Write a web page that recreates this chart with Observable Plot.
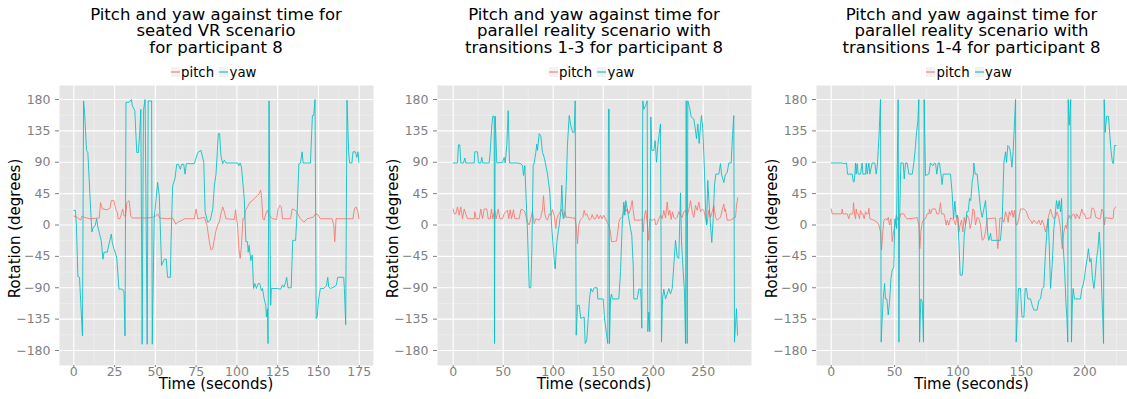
<!DOCTYPE html>
<html><head><meta charset="utf-8">
<script src="https://cdn.jsdelivr.net/npm/d3@7"></script>
<script src="https://cdn.jsdelivr.net/npm/@observablehq/plot@0.6"></script>
<style>
body{margin:0;background:#fff;}
#root{position:relative;width:1127px;height:399px;overflow:hidden;font-family:"DejaVu Sans",sans-serif;}
.title{position:absolute;top:6.5px;text-align:center;font-size:16.5px;line-height:16.7px;color:#000;white-space:nowrap;}
.legend{position:absolute;top:64px;height:16px;display:flex;justify-content:center;align-items:center;font-size:13.3px;color:#000;white-space:nowrap;}
.key{width:9px;height:10px;background:#F2F2F2;position:relative;margin-right:1.5px;}
.key i{position:absolute;left:0;right:0;top:4px;height:2px;opacity:0.55;}
.lab{margin-right:5px}
.xlab{position:absolute;top:376px;font-size:15px;line-height:17px;text-align:center;color:#000;white-space:nowrap;}
.ylab{position:absolute;width:200px;height:17px;font-size:15px;line-height:17px;text-align:center;color:#000;transform:rotate(-90deg);white-space:nowrap;}
.plot{position:absolute;top:83px;}
</style></head>
<body><div id="root"></div>
<script>
// ---------- data ----------
const seriesNames = ["pitch", "yaw"];
const seriesColors = ["#F8766D", "#00BFC4"];
const xTitle = "Time (seconds)";
const yTitle = "Rotation (degrees)";
const yTicks = [-180, -135, -90, -45, 0, 45, 90, 135, 180];
const yMinor = [-157.5, -112.5, -67.5, -22.5, 22.5, 67.5, 112.5, 157.5];

const p1Title = ["Pitch and yaw against time for", "seated VR scenario", "for participant 8"];
const p2Title = ["Pitch and yaw against time for", "parallel reality scenario with", "transitions 1-3 for participant 8"];
const p3Title = ["Pitch and yaw against time for", "parallel reality scenario with", "transitions 1-4 for participant 8"];

const p1XTicks = [0, 25, 50, 75, 100, 125, 150, 175];
const p1XMinor = [12.5, 37.5, 62.5, 87.5, 112.5, 137.5, 162.5];
const p2XTicks = [0, 50, 100, 150, 200, 250];
const p2XMinor = [25, 75, 125, 175, 225, 275];
const p3XTicks = [0, 50, 100, 150, 200];
const p3XMinor = [25, 75, 125, 175, 225];

// [time (s), rotation (deg)]
const p1Pitch = [[0,13],[2.1,11],[3.1,9],[4.1,7],[5.1,13],[6.2,11],[8.2,10],[10.3,9],[14.4,10],[15.6,10],[16.4,32],[17.5,23],[20.5,22],[22.2,24],[23,35],[24.6,35],[25.7,23],[26.7,18],[27.1,9],[28.3,9],[29.2,16],[30,23],[30.8,13],[31.8,13],[32.5,32],[33.9,35],[34.9,13],[35.9,10],[40.1,10],[45.2,10],[48.3,11],[50.3,13],[51.4,16],[52.6,10],[57.5,9],[60.6,10],[61.6,6],[62.6,1],[63.7,4],[65.7,6],[67.8,9],[73.9,9],[75,23],[76,9],[80.1,11],[81.7,-1],[83.1,-24],[84.1,-36],[85.2,-34],[86.2,-20],[87.2,-8],[88.2,0],[89.2,4],[90.2,16],[91.3,26],[92.3,19],[93.3,9],[98.4,8],[99.2,22],[99.8,9],[100.4,0],[101.2,-34],[102,-48],[102.8,-29],[103.7,9],[104.5,9],[105.3,21],[106.5,26],[108.1,33],[109.6,35],[110.6,38],[111.6,40],[112.6,42],[113.6,45],[114.6,50],[115.2,38],[115.9,9],[116.7,7],[117.7,16],[118.7,21],[119.7,14],[121.8,9],[124.4,8],[125.2,23],[126.4,28],[127.2,26],[128,9],[132.9,9],[133.9,23],[135.4,22],[136.6,19],[139,9],[141.1,4],[143.1,9],[146.7,11],[148.2,16],[149.6,15],[151.2,9],[158.3,9],[159.4,0],[160,-24],[160.8,9],[167.5,9],[171.2,9],[172,23],[173.2,26],[174.2,19],[174.8,9]];
const p1Yaw = [[0,21],[1,21],[1.6,-1],[2.5,-74],[3.5,-75],[5.3,-159],[6,178],[6.6,162],[7.8,107],[8.6,104],[9.4,66],[10.3,23],[11.1,-10],[11.9,-3],[13.1,-1],[14,9],[14.8,-3],[16,-15],[16.8,-22],[17.9,-49],[18.5,-39],[20.5,-39],[21.6,-27],[23,-13],[23.6,-25],[24.6,-34],[26.3,-46],[27.7,-92],[29.8,-92],[30.8,-96],[31.4,-159],[32,176],[33.9,176],[35.3,180],[35.9,171],[37.4,164],[38.6,104],[39.6,104],[40.3,128],[41.1,166],[41.9,-171],[42.7,164],[43.7,180],[45,-171],[45.6,178],[47.7,178],[48.1,-171],[49.3,9],[51.4,61],[52.4,42],[53.8,-58],[55.5,-49],[56.7,-49],[57.5,-75],[59.2,-75],[59.6,-25],[60.6,56],[62,66],[63.1,87],[64.1,87],[65.3,80],[66.1,87],[67.4,87],[68.2,73],[69,88],[73.9,88],[76,104],[78,107],[79.7,90],[80.5,19],[82.1,4],[83.7,7],[85.2,23],[86.2,57],[87.2,73],[88.6,131],[89.4,131],[90.2,100],[91.3,88],[92.3,93],[93.3,89],[100.4,89],[101.2,85],[102,89],[102.8,83],[104.5,38],[105.5,-24],[106.5,-24],[106.9,-39],[107.5,-29],[108.5,-51],[109.4,-43],[110.2,-91],[111,-84],[112,-91],[113,-84],[114,-84],[115,-94],[115.7,-91],[116.7,-106],[117.7,-115],[118.1,-132],[118.7,-120],[119.1,-170],[119.7,178],[120.7,-115],[121.1,-91],[124.8,-91],[126.8,-92],[127.9,-86],[128.9,-89],[129.9,-82],[130.5,-75],[131.3,-90],[133.3,-90],[134.2,-22],[136,-22],[137,23],[138,88],[139,89],[140,105],[140.6,89],[145.1,89],[146.3,157],[147.1,157],[147.9,180],[148.6,-134],[149.2,-132],[150.2,-105],[151.2,-91],[153.3,-91],[154.9,-87],[155.7,-75],[156.3,-89],[157.3,-91],[159.4,-89],[161,-86],[161.8,-75],[165.5,-75],[165.9,-91],[166.7,-143],[167.5,179],[168.5,105],[169.1,89],[170.5,89],[171.2,105],[172.6,105],[173.6,97],[174.2,105],[174.8,90]];

const p2Pitch = [[0,23],[1,16],[2.6,16],[4.3,26],[6,14],[7.6,26],[9.3,9],[11,23],[12.6,16],[14.3,9],[21,9],[21.6,19],[23,9],[26,9],[27.6,23],[29.3,9],[31,23],[33.6,23],[35,9],[37,9],[38.3,23],[39.6,9],[41.6,21],[43,9],[45,23],[46.6,9],[49.3,9],[51,16],[52.6,19],[54.3,21],[55.6,9],[57,22],[58.3,9],[60.3,22],[61.6,9],[66,9],[67.6,22],[69.6,22],[71.6,19],[73,11],[74.3,4],[76,0],[77.6,9],[79.3,19],[81,2],[82.6,9],[86,7],[87.6,11],[89.3,23],[90.3,42],[91.6,16],[93,9],[94.3,7],[96,16],[97.6,14],[99.3,22],[101,14],[102.6,-5],[103.6,9],[105,14],[107,19],[108.3,23],[110.3,11],[111.6,19],[113,11],[116,11],[119.3,10],[121.6,10],[123,0],[124.3,-27],[125.6,0],[127,7],[128.3,9],[129.6,11],[131,21],[132.3,14],[133.6,16],[135,11],[136.3,7],[137.6,9],[139,15],[140.6,9],[142.3,9],[144,15],[145.6,9],[147.3,14],[149,9],[150.6,14],[152.3,9],[154,4],[155.6,0],[157.3,-10],[158.3,-24],[163.3,-23],[164.6,-10],[165.6,4],[167.3,10],[169,11],[170.6,19],[171.6,28],[172.6,19],[174,23],[175.6,16],[177.3,23],[179,35],[180,21],[181.3,7],[187.3,7],[189,9],[190,-10],[191.3,14],[192.6,21],[194,4],[195.6,-22],[196.6,9],[198,7],[200,7],[201.3,9],[202.6,0],[204,2],[205.6,9],[207.3,14],[209,9],[210.6,21],[212.3,10],[214,33],[215.3,14],[216.6,21],[218,8],[219.3,19],[220.6,11],[222.6,9],[224,11],[225.6,19],[227.3,14],[229,11],[230.6,19],[232.3,21],[234,14],[235.6,22],[237.3,35],[239,19],[240.6,11],[242.3,28],[244,21],[245.6,33],[247.3,19],[249,23],[250.6,21],[252.3,9],[254,2],[255.6,21],[257.3,11],[259,19],[260.6,28],[262.3,11],[264,7],[265.6,9],[267.3,11],[269,22],[270.6,30],[271.6,19],[272.3,23],[274,7],[277.3,7],[280.6,10],[282.3,11],[283.3,28],[284.6,39]];
const p2Yaw = [[0,89],[4.3,89],[5.3,115],[6.6,115],[7.6,89],[10.3,89],[11.6,96],[12.6,89],[21,89],[21.6,105],[24.3,105],[25.3,89],[27.6,89],[28.6,97],[29.6,89],[36,89],[37,104],[38.6,143],[39.6,156],[41,156],[41.3,-170],[42,156],[43.6,89],[49.3,90],[51,97],[52,89],[53.6,114],[55,164],[56.3,89],[64.3,89],[67.6,88],[69.3,85],[70.3,71],[71.6,85],[72.6,50],[74.3,-10],[76,-90],[77.6,-90],[78.6,-39],[80,85],[81,89],[82.6,104],[83.6,116],[84.3,107],[86,131],[87.6,128],[89.3,104],[91,97],[92,90],[94.3,73],[96.6,47],[98.6,-5],[101,-49],[102,-63],[103.6,-25],[106,0],[107.6,18],[108.6,57],[110,9],[111.6,11],[113,57],[114.3,116],[116,157],[117.6,143],[119.3,133],[121,133],[122,178],[123,-158],[124.3,-115],[126,-115],[127.6,-134],[131,-132],[132,-170],[133.6,-165],[135,-134],[136.3,-106],[137.6,-91],[139.3,-96],[141,-90],[144,-90],[144.6,-106],[150,-106],[151.3,-134],[153.3,-156],[154.6,-170],[155.3,166],[156,166],[156.3,-170],[157.3,-106],[158.3,-99],[159.3,-106],[165.6,-106],[167.3,-67],[169,0],[170.6,33],[171.6,14],[172.6,35],[174,23],[175.6,9],[177.3,-5],[178.6,-15],[180,-58],[180.6,-106],[184,-106],[185.6,-92],[187.3,-92],[188,-108],[188.6,-148],[189.6,178],[190.6,166],[192.3,171],[194,178],[194.6,-153],[195.6,-125],[196.6,-153],[197.6,155],[198.6,107],[200.6,107],[202,121],[203.3,90],[204.6,114],[206,131],[207.3,145],[208.3,-168],[209.3,-106],[210.6,-92],[212.3,-106],[214,-99],[215.6,-91],[217.3,-99],[219,-91],[220.6,-58],[222.3,-22],[224,-46],[225.6,-48],[227.3,46],[228.3,-24],[230,-67],[231.3,-96],[232.3,-170],[233,178],[234,-170],[234.6,178],[236.6,167],[238,155],[240.6,152],[241.6,143],[243.3,124],[244.6,145],[246,117],[247.3,143],[248.3,157],[249.6,138],[251.3,76],[252.3,23],[253.3,0],[254.6,64],[256,28],[257.3,0],[258.6,-25],[260,9],[261.3,57],[262.6,73],[265.6,73],[267.3,88],[268.3,73],[270.6,61],[272.3,73],[274,75],[275.6,89],[278,89],[279.3,128],[280.6,157],[281.3,-168],[282.3,-143],[283.3,-120],[284.3,-158]];

const p3Pitch = [[0,23],[0.8,16],[8.1,16],[8.7,23],[9.2,16],[12.6,16],[13.9,9],[14.7,16],[17.1,16],[17.6,32],[18.4,16],[19.2,9],[19.7,23],[20.5,16],[21.3,16],[22.3,9],[23.1,21],[23.9,16],[25,16],[26,9],[27.1,19],[27.9,16],[29.2,16],[29.7,24],[30.5,9],[33.6,7],[36.3,4],[37.6,0],[38.9,-10],[39.7,-36],[40.7,-10],[41.5,7],[42.8,9],[44.2,7],[45,11],[46,0],[47.1,9],[48.1,-24],[49.2,-10],[50.2,0],[51.3,14],[52.6,7],[53.9,9],[54.9,16],[57.3,16],[58.6,11],[59.9,9],[66.5,10],[67.8,11],[69.1,0],[69.9,-34],[70.7,-10],[71.8,4],[73.1,8],[74.4,9],[75.7,16],[77,16],[77.5,23],[78.3,16],[79.7,23],[82.3,23],[83.3,16],[84.9,16],[86.2,32],[87,16],[88.9,16],[89.6,11],[90.7,0],[91.5,7],[92.8,0],[94.1,10],[95.4,9],[96.7,7],[98.1,0],[99.1,14],[100.2,11],[100.7,-10],[101.7,0],[102.8,7],[103.8,-10],[104.9,11],[105.9,0],[107.3,14],[108.6,9],[109.6,-5],[110.7,4],[111.7,23],[112.8,21],[113.8,0],[115.1,11],[116.5,9],[117.8,0],[119.1,-22],[120.4,-20],[121.7,-10],[123,9],[129.6,10],[130.4,-10],[131.4,-34],[132.2,-20],[133,10],[134.9,10],[136.2,4],[137.5,19],[138.8,11],[139.6,4],[140.4,19],[141.4,14],[142.5,21],[143.5,11],[144.6,21],[145.9,0],[146.7,0],[147.7,7],[149.3,23],[152,23],[153.3,21],[154.6,16],[155.9,9],[157.2,7],[158.5,2],[159.8,7],[161.1,4],[162.4,2],[163.8,7],[165.1,0],[166.4,7],[167.7,0],[169,-10],[170.3,0],[171.6,14],[173,23],[174.3,14],[175.6,9],[176.9,11],[178.2,19],[179.5,11],[180.9,-5],[182.2,-34],[183.5,-10],[184.8,0],[185.6,-5],[186.6,9],[187.7,14],[188.7,9],[190.1,14],[191.4,16],[192.7,9],[193.5,16],[195.6,9],[196.7,16],[197.7,23],[198.8,16],[199.8,16],[200.9,9],[203.2,10],[204.6,10],[205.6,24],[206.6,24],[207.6,21],[208.7,11],[211.1,9],[212.4,9],[213.4,23],[214.5,19],[215.5,0],[216.3,11],[218.2,10],[221.6,9],[222.4,10],[223,23],[224.7,26]];
const p3Yaw = [[0,89],[8.7,89],[10,88],[12.1,89],[12.9,73],[16.6,73],[17.4,62],[18.1,62],[18.7,73],[19.2,89],[19.7,73],[20.5,88],[21.3,73],[23.1,73],[24.4,89],[25,73],[27.1,73],[27.6,89],[28.4,73],[29.7,89],[30.5,73],[32.3,89],[34.4,89],[35.5,73],[36.5,89],[37.6,124],[38.9,180],[39.4,-168],[40.2,-134],[41,-106],[42.1,-84],[42.8,-106],[43.9,-106],[45,-129],[46,-110],[47.1,-77],[48.1,-65],[49.4,-60],[50.2,9],[51.5,-5],[52.8,180],[53.4,-168],[53.9,4],[54.9,89],[56.8,89],[57.6,66],[58.6,89],[59.9,89],[61.3,73],[63.9,73],[65.2,89],[66.5,114],[67.3,133],[68.3,148],[69.1,180],[69.7,-168],[70.7,-106],[71.8,-110],[72.8,-168],[73.3,180],[74.4,71],[77,73],[78.3,89],[80.2,85],[81.5,89],[82.3,88],[83.3,73],[84.4,89],[85.4,89],[86.5,73],[87.5,58],[88.3,73],[94.1,73],[95.4,45],[96.5,9],[97.5,34],[98.6,11],[99.6,14],[100.7,-24],[101.7,-72],[103.3,-72],[103.8,-63],[104.9,-15],[105.9,0],[107,19],[108,19],[109.1,38],[110.1,35],[111.2,62],[112.2,73],[112.5,89],[113.6,73],[115.1,73],[116.5,47],[117.8,23],[119.1,11],[120.4,23],[121.7,35],[122.5,14],[123.6,-15],[124.3,-22],[125.7,-12],[126.4,-22],[133.5,-22],[134.9,9],[136.2,89],[137.5,105],[138.3,90],[139.3,114],[140.4,112],[141.4,105],[142.5,83],[143.5,105],[144.6,148],[145.4,180],[145.9,-168],[146.7,-134],[147.7,-91],[149.3,-91],[150.4,-132],[152,-132],[153,-91],[154,-91],[155.1,-106],[157.2,-106],[158.5,-115],[159.8,-122],[162.4,-122],[163.8,-108],[165.1,-106],[166.4,-91],[167.7,-89],[169,-39],[170.3,-5],[171.1,9],[171.9,-24],[173,-91],[174.3,-58],[175.6,-5],[176.9,19],[177.7,35],[178.8,23],[179.8,35],[180.9,19],[181.7,38],[182.7,-24],[184,-60],[185.1,-110],[185.9,-134],[186.6,-168],[186.9,180],[187.7,143],[188.4,162],[188.9,180],[189.5,-168],[190.3,-106],[190.8,-91],[191.9,-106],[196.6,-106],[197.7,-91],[198.7,-86],[199.8,-75],[200.8,-60],[201.9,-48],[202.9,-34],[204,-53],[205,-48],[206.1,-77],[207.2,-91],[208.2,-75],[209.3,-48],[210.3,-36],[211.4,-10],[212.4,-39],[213.2,-86],[214.2,-134],[214.8,-170],[215.3,180],[216.1,133],[217.2,156],[218.7,156],[219.8,128],[220.8,105],[221.9,89],[222.7,88],[223.4,114],[224.7,114]];

// ---------- layout ----------
const panels = [
  {title: p1Title, pitch: p1Pitch, yaw: p1Yaw, ticks: p1XTicks, minor: p1XMinor, left: 0, width: 375, mL: 59, mR: 2, xDomain: [-8.77, 183.75]},
  {title: p2Title, pitch: p2Pitch, yaw: p2Yaw, ticks: p2XTicks, minor: p2XMinor, left: 375, width: 377, mL: 62, mR: 1, xDomain: [-15.7, 298.3]},
  {title: p3Title, pitch: p3Pitch, yaw: p3Yaw, ticks: p3XTicks, minor: p3XMinor, left: 755, width: 372, mL: 61, mR: 0, xDomain: [-11.6, 233.7]}
];

const root = document.getElementById("root");
const rows = (pairs) => pairs.map(([t, v]) => ({t, v}));

function el(tag, cls, css, text) {
  const e = document.createElement(tag);
  if (cls) e.className = cls;
  Object.assign(e.style, css || {});
  if (text != null) e.textContent = text;
  return e;
}

for (const p of panels) {
  const fL = p.left + p.mL;
  const fW = p.width - p.mL - p.mR;
  const fC = fL + fW / 2;

  const t = el("div", "title", {left: (fC - 200) + "px", width: "400px"});
  p.title.forEach((line, i) => { if (i) t.appendChild(document.createElement("br")); t.appendChild(document.createTextNode(line)); });
  root.appendChild(t);

  const lg = el("div", "legend", {left: (fC - 150) + "px", width: "300px"});
  seriesNames.forEach((name, i) => {
    const k = el("span", "key");
    k.appendChild(el("i", null, {background: seriesColors[i]}));
    lg.appendChild(k);
    lg.appendChild(el("span", "lab", {}, name));
  });
  root.appendChild(lg);

  const chart = Plot.plot({
    width: p.width,
    height: 316,
    marginLeft: p.mL,
    marginRight: p.mR,
    marginTop: 2,
    marginBottom: 34,
    x: {domain: p.xDomain},
    y: {domain: [-201.5, 200.1]},
    style: {fontFamily: "DejaVu Sans", color: "#7F7F7F", background: "transparent", overflow: "visible"},
    marks: [
      Plot.frame({fill: "#E5E5E5"}),
      Plot.gridY(yMinor, {stroke: "#F2F2F2", strokeOpacity: 1, strokeWidth: 0.6}),
      Plot.gridX(p.minor, {stroke: "#F2F2F2", strokeOpacity: 1, strokeWidth: 0.6}),
      Plot.gridY(yTicks, {stroke: "#FFFFFF", strokeOpacity: 1, strokeWidth: 1.1}),
      Plot.gridX(p.ticks, {stroke: "#FFFFFF", strokeOpacity: 1, strokeWidth: 1.1}),
      Plot.line(rows(p.pitch), {x: "t", y: "v", stroke: seriesColors[0], strokeWidth: 1, strokeOpacity: 0.85}),
      Plot.line(rows(p.yaw), {x: "t", y: "v", stroke: seriesColors[1], strokeWidth: 1, strokeOpacity: 0.85}),
      Plot.axisY(yTicks, {tickSize: 4, tickPadding: 5, label: null, fontSize: 12.5}),
      Plot.axisX(p.ticks, {tickSize: 2, tickPadding: 0, label: null, fontSize: 12.5})
    ]
  });
  const holder = el("div", "plot", {left: p.left + "px", width: p.width + "px"});
  holder.appendChild(chart);
  root.appendChild(holder);

  root.appendChild(el("div", "xlab", {left: (fC - 100) + "px", width: "200px"}, xTitle));
  root.appendChild(el("div", "ylab", {left: (fL - 43.7 - 100) + "px", top: (228 - 8.5) + "px"}, yTitle));
}
</script>
</body></html>
